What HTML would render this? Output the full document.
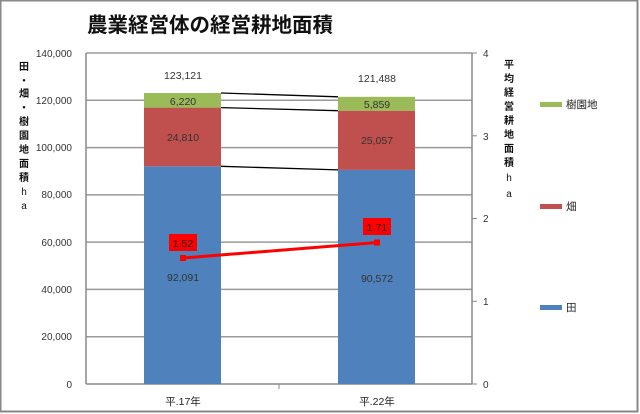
<!DOCTYPE html>
<html><head><meta charset="utf-8"><style>
html,body{margin:0;padding:0;background:#fff}
svg{display:block}
text{font-family:"Liberation Sans","Noto Sans CJK JP",sans-serif}
</style></head><body>
<svg width="640" height="414" viewBox="0 0 640 414" xmlns="http://www.w3.org/2000/svg">
<rect x="0.5" y="0.5" width="637" height="411" fill="#fff" stroke="#888" stroke-width="2"/>
<text x="87" y="32" font-size="20.5" font-weight="bold" fill="#111" style="font-family:'Noto Sans CJK JP',sans-serif">農業経営体の経営耕地面積</text>
<g stroke="#999" stroke-width="1.5">
<line x1="86" y1="53" x2="472" y2="53"/>
<line x1="86" y1="100.3" x2="472" y2="100.3"/>
<line x1="86" y1="147.6" x2="472" y2="147.6"/>
<line x1="86" y1="194.9" x2="472" y2="194.9"/>
<line x1="86" y1="242.1" x2="472" y2="242.1"/>
<line x1="86" y1="289.4" x2="472" y2="289.4"/>
<line x1="86" y1="336.7" x2="472" y2="336.7"/>
</g>
<line x1="86" y1="53" x2="86" y2="384" stroke="#888" stroke-width="1.5"/>
<line x1="472" y1="53" x2="472" y2="384" stroke="#888" stroke-width="1.5"/>
<line x1="86" y1="384" x2="472" y2="384" stroke="#888" stroke-width="1.5"/>
<g stroke="#888"><line x1="472" y1="53" x2="477" y2="53"/><line x1="472" y1="135.8" x2="477" y2="135.8"/><line x1="472" y1="218.5" x2="477" y2="218.5"/><line x1="472" y1="301.3" x2="477" y2="301.3"/><line x1="472" y1="384" x2="477" y2="384"/><line x1="279" y1="384" x2="279" y2="389"/></g>
<g font-size="10" fill="#333" text-anchor="end">
<text x="72" y="57">140,000</text><text x="72" y="104">120,000</text><text x="72" y="151">100,000</text><text x="72" y="198">80,000</text><text x="72" y="246">60,000</text><text x="72" y="293">40,000</text><text x="72" y="340">20,000</text><text x="72" y="388">0</text>
</g>
<g font-size="10" fill="#333"><text x="483" y="57">4</text><text x="483" y="140">3</text><text x="483" y="222">2</text><text x="483" y="305">1</text><text x="483" y="388">0</text></g>
<rect x="144" y="166.3" width="77" height="217.7" fill="#4f81bd"/>
<rect x="144" y="107.6" width="77" height="58.7" fill="#c0504d"/>
<rect x="144" y="93" width="77" height="14.6" fill="#9bbb59"/>
<rect x="338" y="169.9" width="77" height="214.1" fill="#4f81bd"/>
<rect x="338" y="110.7" width="77" height="59.2" fill="#c0504d"/>
<rect x="338" y="96.8" width="77" height="13.9" fill="#9bbb59"/>
<g stroke="#000" stroke-width="1.3"><line x1="221" y1="93" x2="338" y2="96.8"/><line x1="221" y1="107.6" x2="338" y2="110.7"/><line x1="221" y1="166.3" x2="338" y2="169.9"/></g>
<g font-size="10.5" fill="#333" text-anchor="middle">
<text x="183" y="79">123,121</text><text x="377" y="82">121,488</text>
<text x="183" y="105">6,220</text><text x="377" y="108">5,859</text>
<text x="183" y="141">24,810</text><text x="377" y="144">25,057</text>
<text x="183" y="281">92,091</text><text x="377" y="282">90,572</text>
</g>
<line x1="183" y1="258" x2="377" y2="242.5" stroke="#f00" stroke-width="3"/>
<rect x="180" y="255" width="6" height="6" fill="#f00"/><rect x="374" y="239.5" width="6" height="6" fill="#f00"/>
<rect x="169" y="234" width="28" height="17" fill="#f00"/><rect x="363" y="218" width="28" height="17" fill="#f00"/>
<g font-size="10.5" fill="#222" text-anchor="middle"><text x="183" y="247">1.52</text><text x="377" y="231">1.71</text></g>
<g font-size="10.5" fill="#222" text-anchor="middle"><text x="183" y="405">平.17年</text><text x="377" y="405">平.22年</text></g>
<g font-size="10" font-weight="bold" fill="#111" text-anchor="middle">
<text x="24" y="70">田</text><text x="24" y="84">・</text><text x="24" y="97">畑</text><text x="24" y="111">・</text><text x="24" y="125">樹</text><text x="24" y="139">園</text><text x="24" y="153">地</text><text x="24" y="167">面</text><text x="24" y="181">積</text><text x="24" y="195" font-weight="normal">h</text><text x="24" y="209" font-weight="normal">a</text>
<text x="509" y="68">平</text><text x="509" y="82">均</text><text x="509" y="96">経</text><text x="509" y="110">営</text><text x="509" y="124">耕</text><text x="509" y="138">地</text><text x="509" y="152">面</text><text x="509" y="166">積</text><text x="509" y="181" font-weight="normal">h</text><text x="509" y="197" font-weight="normal">a</text>
</g>
<rect x="540" y="102" width="22" height="5" fill="#9bbb59"/><rect x="540" y="204" width="22" height="5" fill="#c0504d"/><rect x="540" y="305" width="22" height="5" fill="#4f81bd"/>
<g font-size="10.5" fill="#222"><text x="566" y="108">樹園地</text><text x="566" y="210">畑</text><text x="566" y="311">田</text></g>
</svg>
</body></html>
